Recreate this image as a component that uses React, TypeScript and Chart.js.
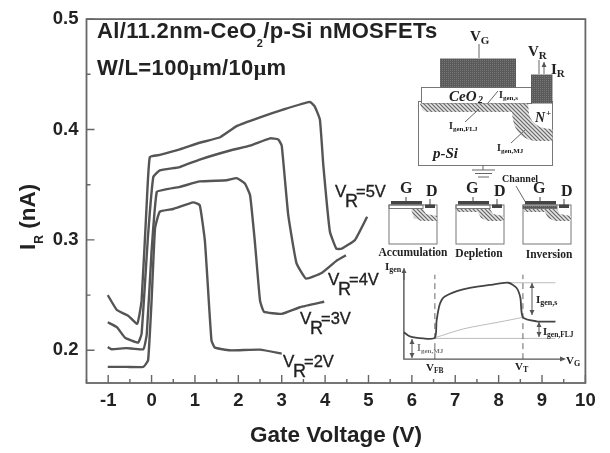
import React, { useEffect, useRef } from "react";
import { Chart, registerables } from "chart.js";

Chart.register(...registerables);

const v5x = [-1.01,-0.8,-0.54,-0.33,-0.23,-0.11,-0.04,0.19,0.65,1.11,1.58,1.96,2.5,3.03,3.65,3.76,3.88,3.96,4.11,4.26,4.38,4.69,4.97];
const v5y = [0.25,0.2365,0.2314,0.224,0.245,0.3345,0.375,0.377,0.382,0.388,0.393,0.403,0.411,0.418,0.425,0.421,0.409,0.367,0.3076,0.292,0.292,0.3,0.321];
const v4x = [-1.01,-0.8,-0.61,-0.31,-0.23,-0.08,0.04,0.19,0.65,1.11,1.81,2.27,2.73,2.92,3.0,3.15,3.34,3.56,3.92,4.26,4.48];
const v4y = [0.2254,0.221,0.2114,0.207,0.215,0.3047,0.357,0.363,0.366,0.3728,0.381,0.3854,0.392,0.391,0.3854,0.3226,0.279,0.265,0.27,0.281,0.286];
const v3x = [-1.01,-0.92,-0.58,-0.19,-0.11,0,0.12,0.35,0.65,1.11,1.73,1.96,2.15,2.27,2.38,2.5,2.59,3.0,3.42,3.98];
const v3y = [0.203,0.201,0.202,0.201,0.215,0.2897,0.3435,0.346,0.348,0.353,0.354,0.356,0.351,0.3405,0.2987,0.245,0.235,0.233,0.239,0.244];
const v2x = [-1.01,-0.57,-0.19,-0.08,0,0.08,0.19,0.5,0.96,1.11,1.23,1.38,1.46,1.81,2.5,3.0];
const v2y = [0.185,0.185,0.185,0.191,0.245,0.3106,0.3256,0.328,0.334,0.3315,0.2987,0.209,0.2024,0.2,0.2006,0.197];

const insetX = [5.816,5.954,6.26,6.53,6.57,6.645,6.76,7.18,7.8,8.22,8.41,8.5,8.56,8.87,9.31];
const insetY = [0.2164,0.2126,0.2108,0.2114,0.2269,0.2419,0.2487,0.2553,0.2592,0.2612,0.2567,0.2478,0.2299,0.2263,0.226];
const insetFljX = [6.53, 7.2, 8.0, 8.56];
const insetFljY = [0.2114, 0.2195, 0.2255, 0.2299];
const insetAxisX = [5.816, 5.816, 9.48];
const insetAxisY = [0.2725, 0.192, 0.192];
const insetVfbX = [6.53, 6.53];
const insetVtX = [8.56, 8.56];
const insetDashY = [0.192, 0.2685];
const insetTopX = [8.22, 9.31];
const insetTopY = [0.2612, 0.2612];
const insetBaseX = [6.53, 9.31];
const insetBaseY = [0.2108, 0.2108];

const xLabels = [-1,0,1,2,3,4,5,6,7,8,9,10];
const yLabels = [0.2,0.3,0.4,0.5];

const pts = (xs: number[], ys: number[]) => xs.map((x, i) => ({ x, y: ys[i] }));
const INK = "#555";
const SANS = '"Liberation Sans", Arial, sans-serif';
const SERIF = '"Liberation Serif", serif';

function hatch(ctx: CanvasRenderingContext2D, dense: boolean) {
  const c = document.createElement("canvas");
  c.width = c.height = dense ? 2 : 4;
  const p = c.getContext("2d")!;
  if (dense) {
    p.fillStyle = "#5a5a5a"; p.fillRect(0, 0, 2, 2);
    p.fillStyle = "#777"; p.fillRect(0, 0, 1, 1);
  } else {
    p.fillStyle = "#e4e4e4"; p.fillRect(0, 0, 4, 4);
    p.strokeStyle = "#666"; p.lineWidth = 1.2;
    p.beginPath(); p.moveTo(0, 0); p.lineTo(4, 4); p.moveTo(-1, 3); p.lineTo(1, 5); p.moveTo(3, -1); p.lineTo(5, 1); p.stroke();
  }
  return ctx.createPattern(c, "repeat")!;
}

function sub(ctx: CanvasRenderingContext2D, x: number, y: number, main: string, s: string, after: string, font: string, fs: number, ss: number, drop: number, color = "#222") {
  ctx.fillStyle = color;
  ctx.textAlign = "left";
  ctx.textBaseline = "alphabetic";
  ctx.font = font.replace("$", String(fs));
  ctx.fillText(main, x, y);
  let cx = x + ctx.measureText(main).width;
  ctx.font = font.replace("$", String(ss));
  ctx.fillText(s, cx, y + drop);
  cx += ctx.measureText(s).width;
  ctx.font = font.replace("$", String(fs));
  if (after) ctx.fillText(after, cx, y);
}

function arrow(ctx: CanvasRenderingContext2D, x: number, y1: number, y2: number, both = true) {
  ctx.beginPath(); ctx.moveTo(x, y1); ctx.lineTo(x, y2); ctx.stroke();
  const head = (yy: number, d: number) => {
    ctx.beginPath(); ctx.moveTo(x, yy); ctx.lineTo(x - 2.5, yy + d * 5); ctx.lineTo(x + 2.5, yy + d * 5); ctx.closePath(); ctx.fill();
  };
  head(y1, 1);
  if (both) head(y2, -1);
}

function miniDevice(ctx: CanvasRenderingContext2D, x: number, mode: number) {
  const dense = hatch(ctx, true), light = hatch(ctx, false);
  ctx.strokeStyle = "#777"; ctx.lineWidth = 1;
  ctx.strokeRect(x, 205, 48, 39);
  ctx.strokeRect(x, 205, 34, 3.5);
  ctx.fillStyle = "#444"; ctx.fillRect(x + 2, 201, 31, 3.4);
  ctx.fillRect(x + 36, 204.5, 10, 3.5);
  ctx.strokeStyle = "#444";
  ctx.beginPath(); ctx.moveTo(x + 17, 197); ctx.lineTo(x + 17, 201); ctx.moveTo(x + 41, 199); ctx.lineTo(x + 41, 205); ctx.stroke();
  ctx.fillStyle = light;
  ctx.beginPath();
  ctx.moveTo(x + 22, 209);
  if (mode > 0) { ctx.lineTo(x + 1, 209); ctx.lineTo(x + 1, 212); ctx.lineTo(x + 22, 212); }
  ctx.lineTo(x + 25, 218); ctx.lineTo(x + 32, 221); ctx.lineTo(x + 48, 221); ctx.lineTo(x + 48, 216); ctx.lineTo(x + 37, 214); ctx.lineTo(x + 34, 209);
  ctx.closePath(); ctx.fill();
  if (mode === 2) { ctx.fillStyle = dense; ctx.fillRect(x, 206, 34, 2.5); }
}

const drawings = {
  id: "drawings",
  afterDatasetsDraw(chart: any) {
    const { ctx, chartArea: a, scales } = chart;
    ctx.save();
    // frame
    ctx.strokeStyle = "#666"; ctx.lineWidth = 1.8;
    ctx.strokeRect(a.left, a.top, a.right - a.left, a.bottom - a.top);
    // inward ticks
    ctx.lineWidth = 1.4;
    ctx.beginPath();
    scales.x.ticks.forEach((t: any) => {
      const p = scales.x.getPixelForValue(t.value);
      const major = Number.isInteger(t.value);
      ctx.moveTo(p, a.bottom); ctx.lineTo(p, a.bottom - (major ? 8 : 4));
    });
    scales.y.ticks.forEach((t: any) => {
      const p = scales.y.getPixelForValue(t.value);
      const major = Math.round(t.value * 100) % 10 === 0;
      ctx.moveTo(a.left, p); ctx.lineTo(a.left + (major ? 8 : 4), p);
    });
    ctx.stroke();

    // y title
    ctx.save();
    ctx.translate(35, 250); ctx.rotate(-Math.PI / 2);
    sub(ctx, 0, 0, "I", "R", " (nA)", `bold $px ${SANS}`, 22.5, 12, 8);
    ctx.restore();

    // headings
    (ctx as any).letterSpacing = "0.35px";
    sub(ctx, 97, 38, "Al/11.2nm-CeO", "2", "/p-Si nMOSFETs", `bold $px ${SANS}`, 22, 11, 8.5);
    ctx.fillStyle = "#222"; ctx.textAlign = "left";
    let hx = 97;
    [["W/L=100", SANS], ["\u03bc", SERIF], ["m/10", SANS], ["\u03bc", SERIF], ["m", SANS]].forEach(([t, f]) => {
      ctx.font = `bold 22px ${f}`;
      ctx.fillText(t, hx, 75);
      hx += ctx.measureText(t).width;
    });
    (ctx as any).letterSpacing = "0px";

    // curve labels
    const lbl = (x: number, y: number, t: string) => {
      ctx.fillStyle = "#222"; ctx.strokeStyle = "#222"; ctx.lineWidth = 0.35; ctx.textAlign = "left";
      ctx.font = `17px ${SANS}`; ctx.fillText("V", x, y); ctx.strokeText("V", x, y);
      ctx.font = `18px ${SANS}`; ctx.fillText("R", x + 10, y + 10); ctx.strokeText("R", x + 10, y + 10);
      ctx.font = `16.5px ${SANS}`; ctx.fillText(t, x + 21, y); ctx.strokeText(t, x + 21, y);
    };
    lbl(335, 197, "=5V"); lbl(328, 285, "=4V"); lbl(300, 324, "=3V"); lbl(283, 367, "=2V");

    // device schematic
    const dense = hatch(ctx, true), light = hatch(ctx, false);
    ctx.lineWidth = 1; ctx.strokeStyle = "#777";
    ctx.fillStyle = "#fff"; ctx.fillRect(418, 101, 135, 64); ctx.strokeRect(418.5, 101.5, 134, 64);
    ctx.fillRect(421.5, 87.5, 110, 16); ctx.strokeRect(421.5, 87.5, 110, 16);
    ctx.fillStyle = dense;
    ctx.fillRect(440, 58.5, 76, 29);
    ctx.fillRect(531, 74.5, 21.5, 29);
    ctx.fillStyle = light;
    ctx.beginPath();
    ctx.moveTo(420, 103.5); ctx.lineTo(528, 103.5); ctx.lineTo(529, 114); ctx.quadraticCurveTo(533, 129, 552.5, 129);
    ctx.lineTo(552.5, 141); ctx.lineTo(535, 141); ctx.quadraticCurveTo(513, 138, 512, 112); ctx.lineTo(426, 112); ctx.quadraticCurveTo(421, 110, 420, 103.5);
    ctx.closePath(); ctx.fill();
    ctx.strokeStyle = "#666";
    ctx.beginPath();
    ctx.moveTo(479, 44); ctx.lineTo(479, 58);
    ctx.moveTo(539, 60); ctx.lineTo(539, 74);
    ctx.moveTo(483, 165); ctx.lineTo(483, 170);
    ctx.moveTo(472, 170); ctx.lineTo(495, 170);
    ctx.moveTo(475, 173.5); ctx.lineTo(492, 173.5);
    ctx.moveTo(478, 177); ctx.lineTo(489, 177);
    ctx.moveTo(488, 103); ctx.lineTo(498, 91);
    ctx.moveTo(465, 122); ctx.lineTo(479, 109);
    ctx.moveTo(511, 143); ctx.lineTo(525, 130);
    ctx.moveTo(516, 186); ctx.lineTo(526, 203);
    ctx.stroke();
    ctx.fillStyle = "#555";
    arrow(ctx, 544, 62, 74, false);
    sub(ctx, 470, 41, "V", "G", "", `bold $px ${SERIF}`, 15, 11, 3);
    sub(ctx, 528, 56, "V", "R", "", `bold $px ${SERIF}`, 15, 11, 3);
    sub(ctx, 551, 74, "I", "R", "", `bold $px ${SERIF}`, 15, 11, 3);
    ctx.fillStyle = "#222";
    ctx.font = `italic bold 15px ${SERIF}`;
    ctx.fillText("CeO", 449, 101);
    ctx.font = `italic bold 10px ${SERIF}`; ctx.fillText("2", 478, 103);
    ctx.font = `italic bold 14px ${SERIF}`;
    ctx.fillText("N", 535, 122);
    ctx.font = `italic bold 9px ${SERIF}`; ctx.fillText("+", 546, 116);
    ctx.font = `italic bold 15px ${SERIF}`;
    ctx.fillText("p-Si", 433, 158);
    const sf = `bold $px ${SERIF}`;
    sub(ctx, 499, 98, "I", "gen,s", "", sf, 10, 7, 2);
    sub(ctx, 449, 129, "I", "gen,FLJ", "", sf, 10, 7, 2);
    sub(ctx, 497, 151, "I", "gen,MJ", "", sf, 10, 7, 2);

    ctx.fillStyle = "#222";
    ctx.font = `bold 10px ${SERIF}`; ctx.fillText("Channel", 502, 182);
    ctx.font = `bold 16px ${SERIF}`;
    [[400, 193], [466, 193], [533, 193]].forEach(([x, y]) => ctx.fillText("G", x, y));
    [[426, 196], [494, 196], [561, 196]].forEach(([x, y]) => ctx.fillText("D", x, y));
    miniDevice(ctx, 389, 0); miniDevice(ctx, 456, 1); miniDevice(ctx, 523, 2);
    ctx.fillStyle = "#222";
    ctx.textAlign = "center";
    ctx.font = `bold 11.5px ${SERIF}`;
    ctx.fillText("Accumulation", 413, 256);
    ctx.fillText("Depletion", 479, 257);
    ctx.fillText("Inversion", 549, 258);
    ctx.textAlign = "left";

    // I-V inset annotations
    sub(ctx, 385, 270, "I", "gen", "", sf, 11, 8, 2);
    sub(ctx, 566, 364, "V", "G", "", sf, 11, 8, 2);
    sub(ctx, 426, 371, "V", "FB", "", sf, 11, 7.5, 2);
    sub(ctx, 515, 370, "V", "T", "", sf, 11, 8, 2);
    sub(ctx, 536, 303, "I", "gen,s", "", sf, 11, 8, 2);
    sub(ctx, 543, 335, "I", "gen,FLJ", "", sf, 10.5, 7.5, 2);
    sub(ctx, 417, 351, "I", "gen,MJ", "", sf, 10, 7, 2, "#777");
    ctx.strokeStyle = "#555"; ctx.fillStyle = "#555"; ctx.lineWidth = 1;
    arrow(ctx, 532, 283, 315);
    arrow(ctx, 539, 322, 337);
    arrow(ctx, 412, 339, 358);
    arrow(ctx, 404, 268, 280, false);
    ctx.beginPath(); ctx.moveTo(566, 359); ctx.lineTo(560, 356.5); ctx.lineTo(560, 361.5); ctx.closePath(); ctx.fill();
    ctx.restore();
  },
};

const curve = (label: string, xs: number[], ys: number[]) => ({
  label, data: pts(xs, ys), borderColor: INK, borderWidth: 2.4, pointRadius: 0, tension: 0.12,
});
const thin = (label: string, xs: number[], ys: number[], color = "#555", w = 1, dash: number[] = [], tension = 0) => ({
  label, data: pts(xs, ys), borderColor: color, borderWidth: w, pointRadius: 0, tension, borderDash: dash,
});

export default function App() {
  const ref = useRef<HTMLCanvasElement>(null);
  useEffect(() => {
    document.body.style.margin = "0";
    const chart = new Chart(ref.current!, {
      type: "line",
      data: {
        datasets: [
          curve("VR=5V", v5x, v5y),
          curve("VR=4V", v4x, v4y),
          curve("VR=3V", v3x, v3y),
          curve("VR=2V", v2x, v2y),
          thin("Igen", insetX, insetY, "#444", 1.8, [], 0.25),
          thin("Igen,FLJ", insetFljX, insetFljY, "#bbb", 1, [], 0.3),
          thin("inset axes", insetAxisX, insetAxisY, "#555", 1.4),
          thin("VFB", insetVfbX, insetDashY, "#666", 1, [6, 4]),
          thin("VT", insetVtX, insetDashY, "#666", 1, [6, 4]),
          thin("top", insetTopX, insetTopY, "#bbb", 1),
          thin("base", insetBaseX, insetBaseY, "#bbb", 1),
        ],
      },
      options: {
        responsive: false,
        animation: false,
        layout: { padding: { top: 15.5, right: 24.6, left: 0, bottom: 0 } },
        plugins: { legend: { display: false }, tooltip: { enabled: false } },
        scales: {
          x: {
            type: "linear", min: -1.5, max: 10,
            afterFit: (s: any) => { s.height = 70; },
            grid: { display: false, drawTicks: false },
            border: { display: false },
            ticks: {
              stepSize: 0.5, includeBounds: false, autoSkip: false, maxRotation: 0, padding: 7,
              color: "#222", font: { family: SANS, weight: "bold", size: 18.5 },
              callback: (v: any) => (xLabels.includes(v) ? String(v) : ""),
            },
            title: { display: true, text: "Gate Voltage (V)", color: "#222", font: { family: SANS, weight: "bold", size: 22.5 }, padding: { top: 0, bottom: 4 } },
          },
          y: {
            type: "linear", min: 0.1704, max: 0.5,
            afterFit: (s: any) => { s.width = 86.5; },
            grid: { display: false, drawTicks: false },
            border: { display: false },
            ticks: {
              stepSize: 0.05, includeBounds: false, autoSkip: false, padding: 8,
              color: "#222", font: { family: SANS, weight: "bold", size: 18.5 },
              callback: (v: any) => {
                const r = Math.round(v * 100) / 100;
                return yLabels.includes(r) ? r.toFixed(1) : "";
              },
            },
          },
        },
      } as any,
      plugins: [drawings],
    });
    return () => chart.destroy();
  }, []);
  return <canvas ref={ref} width={610} height={453} style={{ display: "block", filter: "blur(0.4px)" }} />;
}
